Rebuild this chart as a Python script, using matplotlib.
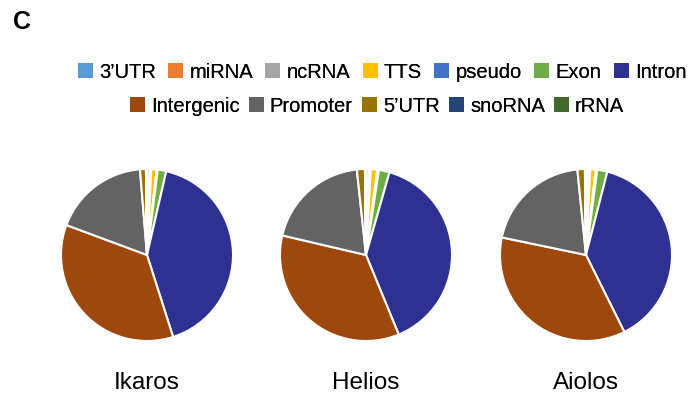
import matplotlib.pyplot as plt
from matplotlib.patches import Patch

plt.rcParams['font.family'] = ['Liberation Sans', 'DejaVu Sans']

# genomic feature categories, in the order they go round each pie
categories = ["3’UTR", "miRNA", "ncRNA", "TTS", "pseudo", "Exon", "Intron",
              "Intergenic", "Promoter", "5’UTR", "snoRNA", "rRNA"]
colors = ["#5B9BD5", "#ED7D31", "#A5A5A5", "#FFC000", "#4472C4", "#70AD47",
          "#2E3192", "#9E480E", "#636363", "#997300", "#264478", "#43682B"]

# percentages of peaks per feature
ikaros = [0.5, 0.1, 0.2, 1.0, 0.2, 1.6, 41.4, 35.5, 18.0, 1.1, 0.1, 0.1]
helios = [0.5, 0.1, 0.3, 1.2, 0.3, 2.0, 39.3, 34.8, 19.6, 1.5, 0.1, 0.1]
aiolos = [0.4, 0.1, 0.3, 1.0, 0.3, 1.9, 38.6, 35.6, 20.1, 1.4, 0.1, 0.1]

samples = ["Ikaros", "Helios", "Aiolos"]
values = [ikaros, helios, aiolos]
centres = [147, 366, 586]

W, H = 697, 399
fig = plt.figure(figsize=(W / 100, H / 100), dpi=100)

r = 86
for name, vals, cx in zip(samples, values, centres):
    cy = 255
    ax = fig.add_axes([(cx - r) / W, (H - cy - r) / H, 2 * r / W, 2 * r / H])
    ax.pie(vals, colors=colors, startangle=90, counterclock=False,
           wedgeprops=dict(edgecolor='white', linewidth=1.5))
    ax.set_xlim(-1.0, 1.0)
    ax.set_ylim(-1.0, 1.0)
    ax.set_aspect('equal')
    fig.text(cx / W, 1 - 383 / H, name, ha='center', va='center', fontsize=17.5)

fig.text(13 / W, 1 - 22 / H, "C", fontsize=18, fontweight='bold',
         ha='left', va='center')

# legend in two centred rows: 7 entries then 5
handles = [Patch(facecolor=c, edgecolor='none') for c in colors]
rows = [(slice(0, 7), 382, 72, 0.62), (slice(7, 12), 377, 106, 0.45)]
for part, x, y, gap in rows:
    leg = fig.legend(handles[part], categories[part], ncol=len(categories[part]),
                     loc='center', bbox_to_anchor=(x / W, 1 - y / H),
                     frameon=False, fontsize=14.5, handlelength=0.75,
                     handleheight=0.75, handletextpad=0.3, columnspacing=gap,
                     borderpad=0, borderaxespad=0)
    fig.add_artist(leg)

fig.savefig("out.png", dpi=100)
